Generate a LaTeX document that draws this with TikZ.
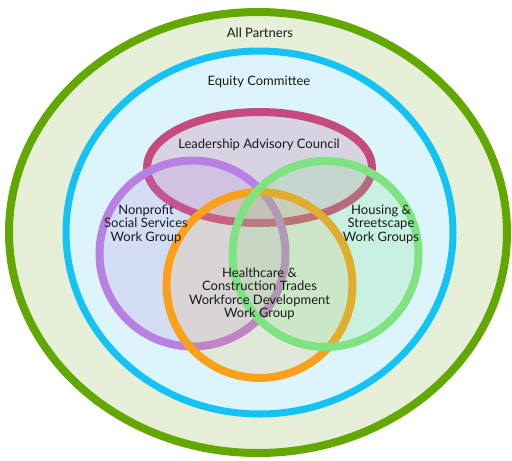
\documentclass[tikz,border=0pt]{standalone}
\usepackage{fontspec}
\setmainfont{Lato}
\usepackage{tikz}

\definecolor{partnergreen}{HTML}{62A800}
\definecolor{partnerfill}{HTML}{E6F0D8}
\definecolor{equityblue}{HTML}{14C3F3}
\definecolor{equityfill}{HTML}{DCF5FB}
\definecolor{councilred}{HTML}{C54B7E}
\definecolor{nonprofitpurple}{HTML}{B780E2}
\definecolor{tradesorange}{HTML}{F9A11B}
\definecolor{housinggreen}{HTML}{7FE381}
\definecolor{labelgrey}{HTML}{1A1A1A}

\begin{document}
\begin{tikzpicture}[x=1pt, y=-1pt,
        ring/.style={line width=8pt, fill opacity=0.2},
        grouplabel/.style={text=labelgrey, align=center, inner sep=0pt,
            font=\fontsize{13}{13.4}\selectfont}]
    \useasboundingbox (0,0) rectangle (512,461);
    % outer circles
    \draw[line width=8pt, draw=partnergreen, fill=partnerfill] (258,232.5) ellipse [x radius=249pt, y radius=220.5pt];
    \draw[line width=7pt, draw=equityblue, fill=equityfill] (259.5,232.5) ellipse [x radius=193.5pt, y radius=181.5pt];
    % council and work groups
    \draw[ring, draw=councilred, fill=councilred] (259.5,167.5) ellipse [x radius=112.5pt, y radius=55.5pt];
    \draw[ring, draw=nonprofitpurple, fill=nonprofitpurple] (192.5,253.5) circle [radius=93pt];
    \draw[ring, fill opacity=0.15, draw=tradesorange, fill=tradesorange] (259.5,285) circle [radius=93pt];
    \draw[ring, draw=housinggreen, fill=housinggreen] (325.5,254) circle [radius=93pt];
    % labels
    \node[grouplabel] (partners) at (260,33) {All Partners};
    \node[grouplabel] (equity) at (259,82) {Equity Committee};
    \node[grouplabel] (council) at (259,145) {Leadership Advisory Council};
    \node[grouplabel] (nonprofit) at (146,224) {Nonprofit\\Social Services\\Work Group};
    \node[grouplabel] (housing) at (381,224) {Housing \&\\Streetscape\\Work Groups};
    \node[grouplabel] (trades) at (259.5,294) {Healthcare \&\\Construction Trades\\Workforce Development\\Work Group};
\end{tikzpicture}
\end{document}
